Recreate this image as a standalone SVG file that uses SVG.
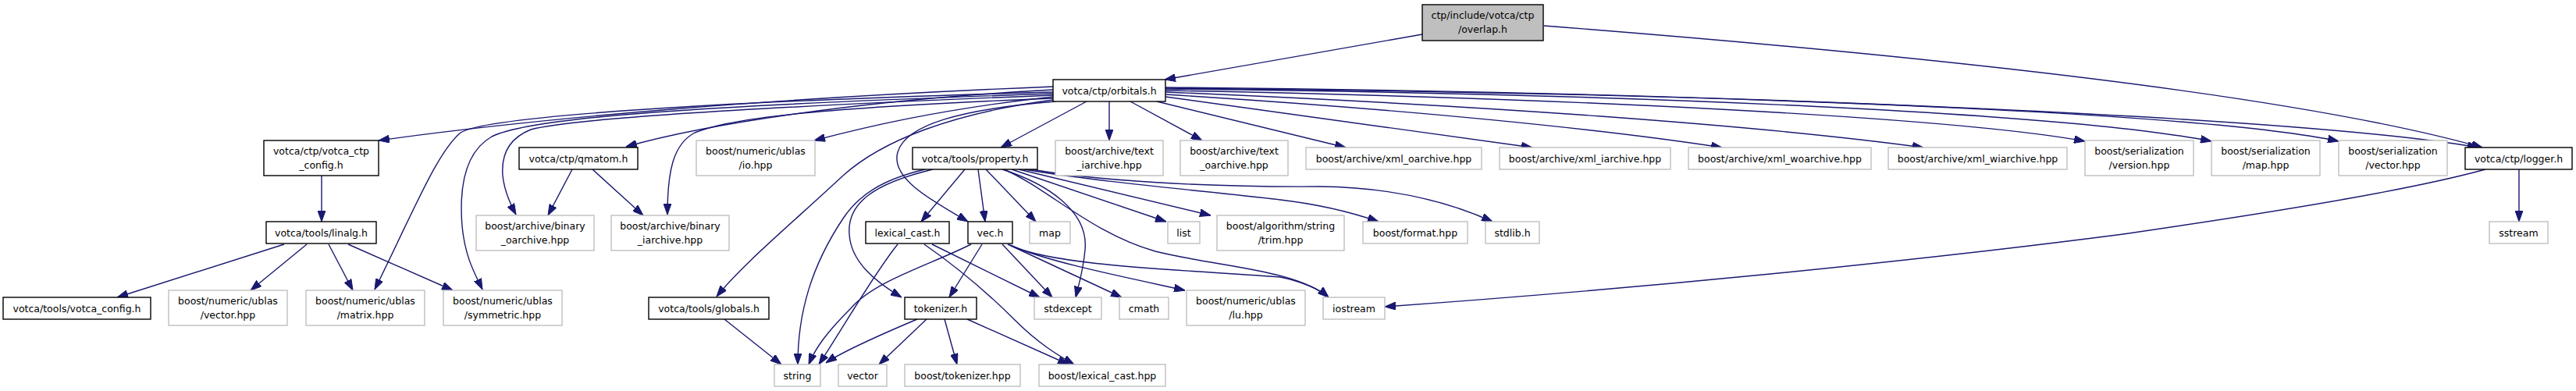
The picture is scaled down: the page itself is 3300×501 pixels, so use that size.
<svg xmlns="http://www.w3.org/2000/svg" width="3300" height="501" viewBox="0 0 3300 501">
<style>
text{font-family:"DejaVu Sans","Liberation Sans",sans-serif;font-size:12.5px;text-anchor:middle;fill:#000}
.n rect{fill:#fff;stroke:#000;stroke-width:1.4}
.g rect{fill:#fff;stroke:#bfbfbf;stroke-width:1.4}
.root rect{fill:#bfbfbf;stroke:#000;stroke-width:1.4}
#edges path{fill:none;stroke:#191970;stroke-width:1.4;marker-end:url(#ah)}
</style>
<defs>
<marker id="ah" markerUnits="userSpaceOnUse" markerWidth="14" markerHeight="10" refX="14" refY="5" orient="auto"><path d="M0,0 L14,5 L0,10 z" fill="#191970" stroke="#191970" stroke-width="1"/></marker>
</defs>
<rect width="3300" height="501" fill="#fff"/>
<g id="edges">
<path d="M1822,44 L1492,102"/>
<path d="M1978,33 C2300,58 2900,110 3180,189"/>
<path d="M1349,111 C1000,125 700,150 485,180"/>
<path d="M1349,115 C1100,128 900,160 802,188"/>
<path d="M1349,124 C1200,140 1100,165 1043,180"/>
<path d="M1392,130 L1282,189"/>
<path d="M1421,130 L1421,180"/>
<path d="M1448,130 L1540,180"/>
<path d="M1482,130 L1724,189"/>
<path d="M1493,124 L1963,189"/>
<path d="M1493,121 C1800,140 2050,165 2206,189"/>
<path d="M1493,118 C1900,135 2250,160 2464,189"/>
<path d="M1493,116 C2000,125 2500,150 2671,181"/>
<path d="M1493,114 C2100,120 2650,145 2833,181"/>
<path d="M1493,113 C2100,118 2800,140 2996,181"/>
<path d="M1493,112 C2200,118 2950,150 3175,189"/>
<path d="M1349,118 C900,130 620,150 590,170 C560,195 530,270 480,371"/>
<path d="M1349,120 C900,135 680,150 630,175 C595,195 588,240 592,290 C596,330 608,350 618,371"/>
<path d="M1349,122 C900,140 720,155 680,166 C650,178 642,200 644,225 C646,245 654,262 661,275"/>
<path d="M1349,126 C1000,140 930,155 890,170 C862,185 855,220 855,275"/>
<path d="M1349,128 C1220,145 1130,180 1080,225 C1010,290 950,340 918,380"/>
<path d="M1352,130 C1230,140 1160,160 1150,195 C1140,230 1200,260 1240,284"/>
<path d="M1236,217 L1180,284"/>
<path d="M1253,217 L1262,284"/>
<path d="M1263,217 L1327,284"/>
<path d="M1284,217 C1340,235 1395,270 1390,320 C1388,345 1382,365 1378,381"/>
<path d="M1296,217 L1494,284"/>
<path d="M1305,217 L1551,276"/>
<path d="M1312,217 C1420,235 1550,245 1640,256 C1700,263 1740,275 1766,284"/>
<path d="M1310,215 C1400,232 1550,240 1690,239 C1800,240 1870,265 1912,284"/>
<path d="M1286,217 C1340,240 1400,300 1480,322 C1560,342 1660,345 1702,381"/>
<path d="M1195,217 C1120,235 1085,260 1088,300 C1090,335 1120,360 1155,381"/>
<path d="M1185,217 C1130,230 1100,250 1080,280 C1040,340 1022,400 1022,467"/>
<path d="M1258,313 L1216,381"/>
<path d="M1244,313 C1190,340 1120,360 1090,395 C1060,425 1045,445 1036,467"/>
<path d="M1284,313 L1348,381"/>
<path d="M1291,313 L1437,381"/>
<path d="M1294,314 C1340,335 1440,355 1518,372"/>
<path d="M1296,315 C1350,340 1500,345 1640,355 C1665,360 1690,370 1702,381"/>
<path d="M1150,313 C1120,350 1080,420 1049,467"/>
<path d="M1194,313 L1332,381"/>
<path d="M1184,313 C1230,345 1270,380 1300,410 C1330,440 1355,455 1376,467"/>
<path d="M1175,409 C1130,428 1080,450 1058,465"/>
<path d="M1187,409 L1126,467"/>
<path d="M1210,409 L1226,467"/>
<path d="M1239,409 L1369,467"/>
<path d="M364,313 L150,381"/>
<path d="M393,313 L321,372"/>
<path d="M421,313 L452,372"/>
<path d="M446,313 L580,372"/>
<path d="M412,225 L412,284"/>
<path d="M733,217 L702,276"/>
<path d="M759,217 L824,276"/>
<path d="M928,409 L1001,467"/>
<path d="M3227,217 L3227,284"/>
<path d="M3184,217 C3100,240 2960,265 2720,300 C2450,335 2100,370 1774,393"/>
</g>
<g id="overlap" class="root"><rect x="1822" y="6" width="155" height="46"/><text x="1899.5" y="24">ctp/include/votca/ctp</text><text x="1899.5" y="42">/overlap.h</text></g>
<g id="orbitals" class="n"><rect x="1349" y="102" width="144" height="28"/><text x="1421" y="120.5">votca/ctp/orbitals.h</text></g>
<g id="votca_ctp_config" class="n"><rect x="338" y="180" width="147" height="45"/><text x="411.5" y="197.5">votca/ctp/votca_ctp</text><text x="411.5" y="215.5">_config.h</text></g>
<g id="qmatom" class="n"><rect x="665" y="189" width="152" height="28"/><text x="741" y="207.5">votca/ctp/qmatom.h</text></g>
<g id="ublas_io" class="g"><rect x="892" y="180" width="152" height="45"/><text x="968" y="197.5">boost/numeric/ublas</text><text x="968" y="215.5">/io.hpp</text></g>
<g id="property" class="n"><rect x="1169" y="189" width="160" height="28"/><text x="1249" y="207.5">votca/tools/property.h</text></g>
<g id="text_iarchive" class="g"><rect x="1352" y="180" width="138" height="45"/><text x="1421" y="197.5">boost/archive/text</text><text x="1421" y="215.5">_iarchive.hpp</text></g>
<g id="text_oarchive" class="g"><rect x="1512" y="180" width="138" height="45"/><text x="1581" y="197.5">boost/archive/text</text><text x="1581" y="215.5">_oarchive.hpp</text></g>
<g id="xml_oarchive" class="g"><rect x="1673" y="189" width="225" height="28"/><text x="1785.5" y="207.5">boost/archive/xml_oarchive.hpp</text></g>
<g id="xml_iarchive" class="g"><rect x="1921" y="189" width="219" height="28"/><text x="2030.5" y="207.5">boost/archive/xml_iarchive.hpp</text></g>
<g id="xml_woarchive" class="g"><rect x="2163" y="189" width="234" height="28"/><text x="2280" y="207.5">boost/archive/xml_woarchive.hpp</text></g>
<g id="xml_wiarchive" class="g"><rect x="2419" y="189" width="229" height="28"/><text x="2533.5" y="207.5">boost/archive/xml_wiarchive.hpp</text></g>
<g id="ser_version" class="g"><rect x="2671" y="180" width="139" height="45"/><text x="2740.5" y="197.5">boost/serialization</text><text x="2740.5" y="215.5">/version.hpp</text></g>
<g id="ser_map" class="g"><rect x="2833" y="180" width="139" height="45"/><text x="2902.5" y="197.5">boost/serialization</text><text x="2902.5" y="215.5">/map.hpp</text></g>
<g id="ser_vector" class="g"><rect x="2996" y="180" width="139" height="45"/><text x="3065.5" y="197.5">boost/serialization</text><text x="3065.5" y="215.5">/vector.hpp</text></g>
<g id="logger" class="n"><rect x="3158" y="189" width="137" height="28"/><text x="3226.5" y="207.5">votca/ctp/logger.h</text></g>
<g id="sstream" class="g"><rect x="3189" y="284" width="75" height="28"/><text x="3226.5" y="302.5">sstream</text></g>
<g id="linalg" class="n"><rect x="341" y="284" width="141" height="28"/><text x="411.5" y="302.5">votca/tools/linalg.h</text></g>
<g id="votca_config" class="n"><rect x="4" y="381" width="189" height="28"/><text x="98.5" y="399.5">votca/tools/votca_config.h</text></g>
<g id="ublas_vector" class="g"><rect x="216" y="372" width="152" height="45"/><text x="292" y="389.5">boost/numeric/ublas</text><text x="292" y="407.5">/vector.hpp</text></g>
<g id="ublas_matrix" class="g"><rect x="392" y="372" width="152" height="45"/><text x="468" y="389.5">boost/numeric/ublas</text><text x="468" y="407.5">/matrix.hpp</text></g>
<g id="ublas_symmetric" class="g"><rect x="568" y="372" width="152" height="45"/><text x="644" y="389.5">boost/numeric/ublas</text><text x="644" y="407.5">/symmetric.hpp</text></g>
<g id="binary_oarchive" class="g"><rect x="610" y="276" width="151" height="45"/><text x="685.5" y="293.5">boost/archive/binary</text><text x="685.5" y="311.5">_oarchive.hpp</text></g>
<g id="binary_iarchive" class="g"><rect x="783" y="276" width="151" height="45"/><text x="858.5" y="293.5">boost/archive/binary</text><text x="858.5" y="311.5">_iarchive.hpp</text></g>
<g id="globals" class="n"><rect x="831" y="381" width="154" height="28"/><text x="908" y="399.5">votca/tools/globals.h</text></g>
<g id="lexical_cast_h" class="n"><rect x="1109" y="284" width="107" height="28"/><text x="1162.5" y="302.5">lexical_cast.h</text></g>
<g id="vec_h" class="n"><rect x="1240" y="284" width="57" height="28"/><text x="1268.5" y="302.5">vec.h</text></g>
<g id="map" class="g"><rect x="1319" y="284" width="52" height="28"/><text x="1345" y="302.5">map</text></g>
<g id="list" class="g"><rect x="1496" y="284" width="41" height="28"/><text x="1516.5" y="302.5">list</text></g>
<g id="trim" class="g"><rect x="1559" y="276" width="163" height="45"/><text x="1640.5" y="293.5">boost/algorithm/string</text><text x="1640.5" y="311.5">/trim.hpp</text></g>
<g id="format" class="g"><rect x="1746" y="284" width="134" height="28"/><text x="1813" y="302.5">boost/format.hpp</text></g>
<g id="stdlib" class="g"><rect x="1903" y="284" width="69" height="28"/><text x="1937.5" y="302.5">stdlib.h</text></g>
<g id="tokenizer_h" class="n"><rect x="1159" y="381" width="92" height="28"/><text x="1205" y="399.5">tokenizer.h</text></g>
<g id="stdexcept" class="g"><rect x="1325" y="381" width="86" height="28"/><text x="1368" y="399.5">stdexcept</text></g>
<g id="cmath" class="g"><rect x="1434" y="381" width="63" height="28"/><text x="1465.5" y="399.5">cmath</text></g>
<g id="ublas_lu" class="g"><rect x="1520" y="372" width="152" height="45"/><text x="1596" y="389.5">boost/numeric/ublas</text><text x="1596" y="407.5">/lu.hpp</text></g>
<g id="iostream" class="g"><rect x="1695" y="381" width="79" height="28"/><text x="1734.5" y="399.5">iostream</text></g>
<g id="string" class="g"><rect x="992" y="467" width="59" height="28"/><text x="1021.5" y="485.5">string</text></g>
<g id="vector" class="g"><rect x="1074" y="467" width="62" height="28"/><text x="1105" y="485.5">vector</text></g>
<g id="boost_tokenizer" class="g"><rect x="1159" y="467" width="148" height="28"/><text x="1233" y="485.5">boost/tokenizer.hpp</text></g>
<g id="boost_lexical_cast" class="g"><rect x="1331" y="467" width="162" height="28"/><text x="1412" y="485.5">boost/lexical_cast.hpp</text></g>
</svg>
